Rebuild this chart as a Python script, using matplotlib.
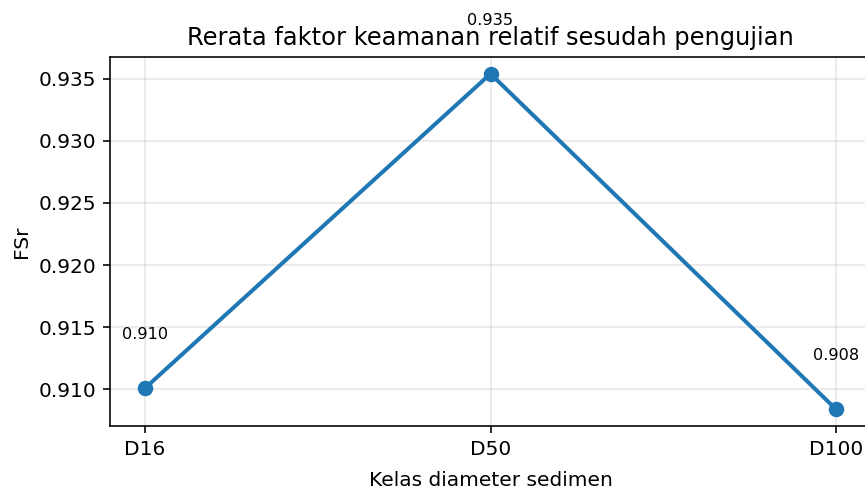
import numpy as np
import matplotlib
matplotlib.use("Agg")
import matplotlib.pyplot as plt

# Data
kelas = ["D16", "D50", "D100"]
fsr = [0.9101, 0.9354, 0.9084]

s = 1.45  # scale from the original 145 dpi to 100 dpi

fig = plt.figure(figsize=(8.65, 4.86), dpi=100)
ax = fig.add_axes([110.5 / 865, 60 / 486, 760 / 865, 369 / 486])

x = np.arange(len(kelas))
ax.plot(x, fsr, marker="o", color="#1f77b4", linewidth=2 * s, markersize=7 * s)

for xi, yi in zip(x, fsr):
    ax.text(xi, yi + 0.0037, f"{yi:.3f}", ha="center", va="bottom", fontsize=8 * s)

ax.set_xticks(x)
ax.set_xticklabels(kelas)
ax.set_ylim(0.90705, 0.93675)
ax.set_xlim(-0.1, 2.1)

ax.set_title("Rerata faktor keamanan relatif sesudah pengujian", fontsize=12 * s, pad=6 * s)
ax.set_xlabel("Kelas diameter sedimen", fontsize=10 * s, labelpad=6 * s)
ax.set_ylabel("FSr", fontsize=10 * s, labelpad=4 * s)
ax.tick_params(labelsize=10 * s, length=3.5 * s, width=0.8 * s, pad=3.5 * s)
for sp in ax.spines.values():
    sp.set_linewidth(0.8 * s)
ax.grid(True, alpha=0.3, linewidth=0.8 * s)

fig.savefig("out.png", dpi=100)
